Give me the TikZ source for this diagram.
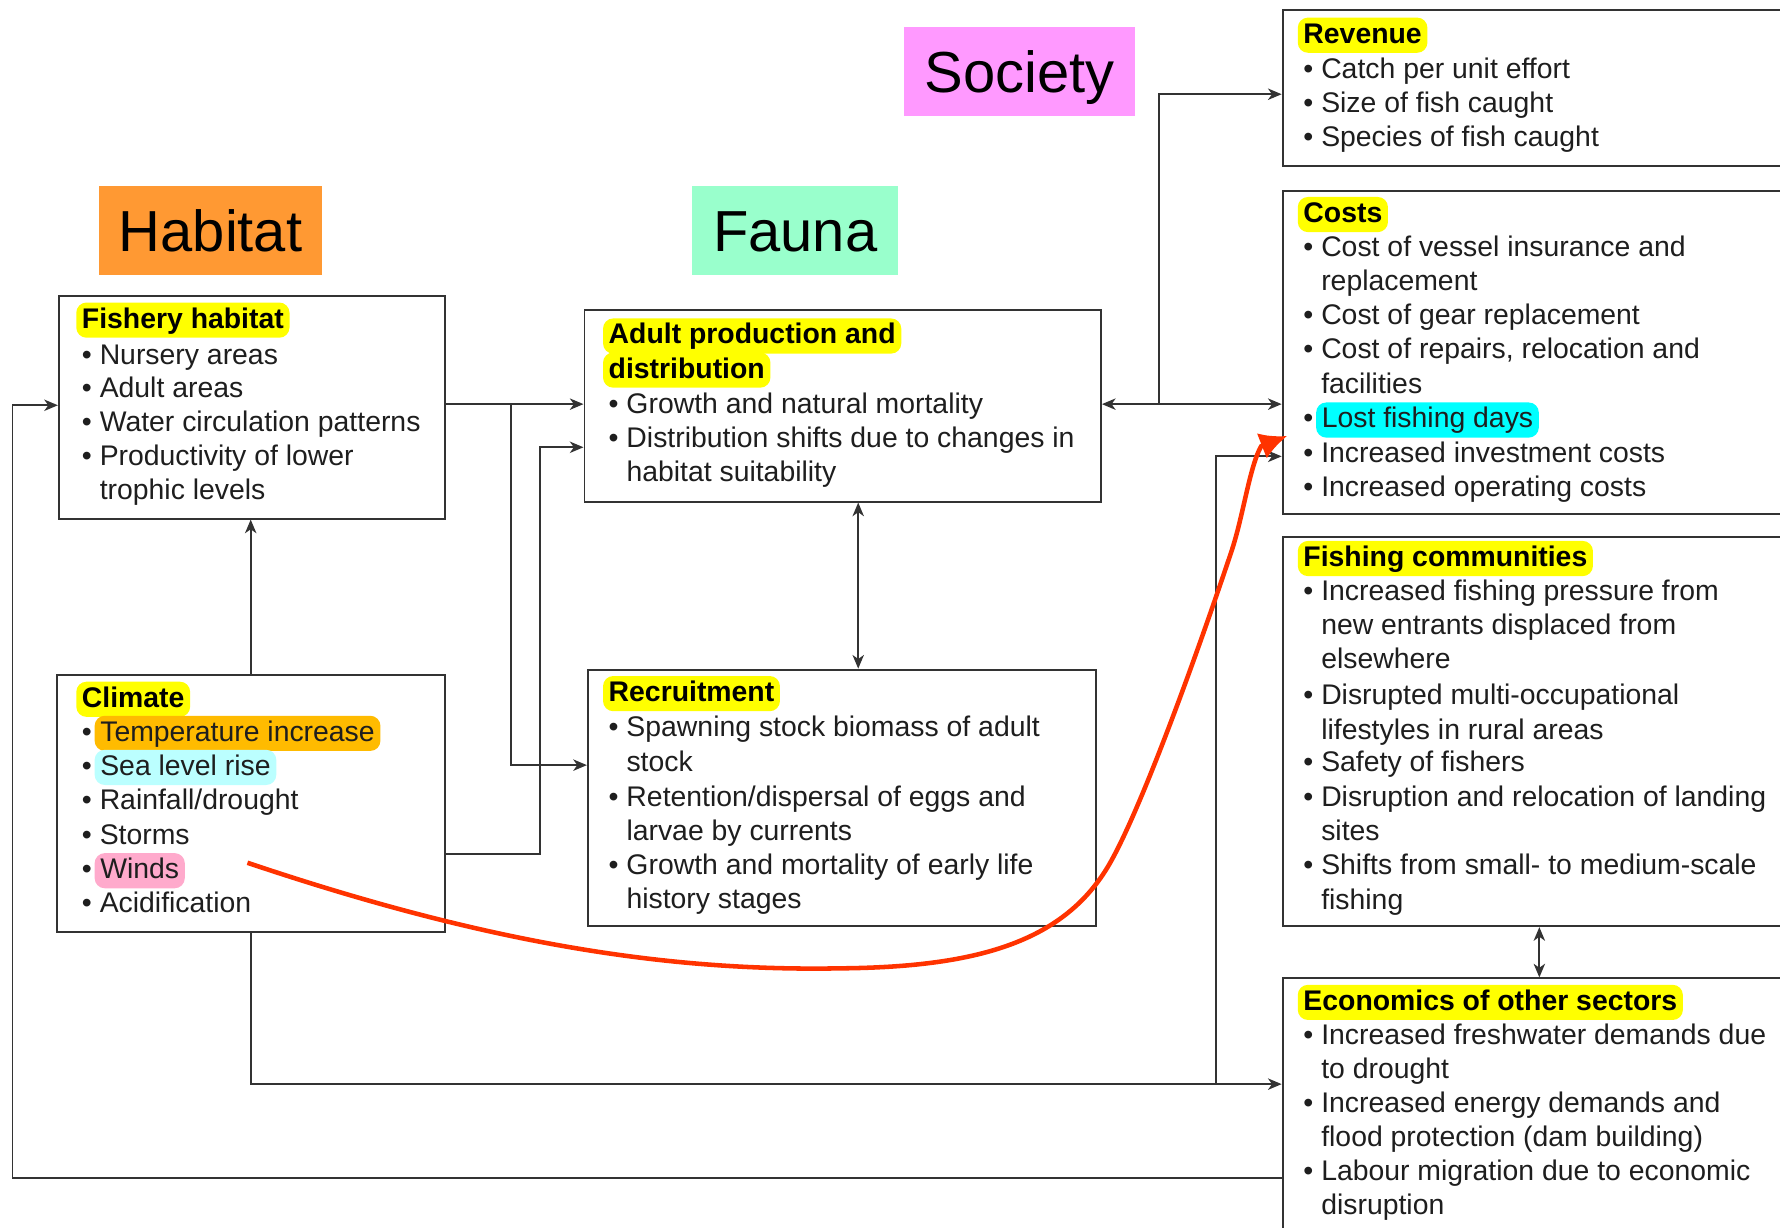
\documentclass[tikz,border=0pt]{standalone}
\usepackage{fontspec}
\setmainfont{Liberation Sans}
\usetikzlibrary{arrows.meta}
\definecolor{habc}{HTML}{FF9933}
\definecolor{fauc}{HTML}{99FFCC}
\definecolor{socc}{HTML}{FF99FF}
\definecolor{hly}{HTML}{FFFF00}
\definecolor{hlo}{HTML}{FFBB00}
\definecolor{hlc}{HTML}{BBFFFF}
\definecolor{hlp}{HTML}{FFAACC}
\definecolor{hlcy}{HTML}{00FFFF}
\definecolor{redc}{HTML}{FF3300}
\definecolor{linec}{HTML}{333333}
\definecolor{txtc}{HTML}{1E1E1E}
\newcommand\Ln[3]{\node[ln] (#1) at (#2) {#3};}
\newcommand\Ct[3]{\node[ln] (#1) at (#2) {\hphantom{•}\ #3};}
\newcommand\Hd[3]{\node[hd] (#1) at (#2) {#3};}
\newcommand\Hb[4]{\node[ln] (#1b) at (#2) {•};
  \node[hl=#3, xshift=2pt] (#1) at (#1b.base east) {#4};}
\tikzset{
  box/.style={draw=linec, line width=1.7pt, anchor=north west, inner sep=0pt},
  ln/.style={anchor=base west, inner sep=0pt, text=txtc, font=\fontsize{25}{30}\selectfont},
  hl/.style={anchor=base west, inner xsep=5pt, inner ysep=3.5pt, text height=19pt,
    text depth=5pt, rounded corners=9pt, text=txtc, font=\fontsize{25}{30}\selectfont, fill=#1},
  hd/.style={hl=hly, xshift=-5pt, text=black, font=\fontsize{25}{30}\selectfont\bfseries},
  ttl/.style={fill=#1, inner sep=0pt, minimum height=78pt, text height=36.5pt, text depth=0pt,
    text=black, font=\fontsize{51}{60}\selectfont},
  conn/.style={draw=linec, line width=1.7pt, -{Stealth[length=12pt,width=10pt,inset=3.5pt]}},
  dconn/.style={draw=linec, line width=1.7pt,
    {Stealth[length=12pt,width=10pt,inset=3.5pt]}-{Stealth[length=12pt,width=10pt,inset=3.5pt]}},
  redarr/.style={draw=redc, line width=4pt, -{Latex[length=24pt,width=24pt]}},
}
\begin{document}
\begin{tikzpicture}[x=1pt,y=-1pt]
\useasboundingbox (0,0) rectangle (1568,1081);
\fill[white] (0,0) rectangle (1568,1081);
\clip (0,0) rectangle (1568,1081);

% titles
\node[ttl=habc, minimum width=197pt] (hab) at (185.5,203) {Habitat};
\node[ttl=fauc, minimum width=181pt] (fau) at (700.5,203) {Fauna};
\node[ttl=socc, minimum width=204pt] (soc) at (898,63) {Society};

% boxes
\node[box, minimum width=340pt, minimum height=196pt] (fh) at (51,260) {};
\node[box, minimum width=342pt, minimum height=226pt] (cl) at (49,594) {};
\node[box, minimum width=455pt, minimum height=169pt] (ap) at (514,272) {};
\node[box, minimum width=448pt, minimum height=226pt] (rc) at (517,589) {};
\node[box, minimum width=470pt, minimum height=137pt] (rv) at (1129,8) {};
\node[box, minimum width=470pt, minimum height=285pt] (co) at (1129,167) {};
\node[box, minimum width=470pt, minimum height=343pt] (fc) at (1129,472) {};
\node[box, minimum width=470pt, minimum height=250pt] (ec) at (1129,861) {};

% Fishery habitat
\Hd{fh0}{72,289}{Fishery habitat}
\Ln{fh1}{72,321}{• Nursery areas}
\Ln{fh2}{72,350}{• Adult areas}
\Ln{fh3}{72,380}{• Water circulation patterns}
\Ln{fh4}{72,410}{• Productivity of lower}
\Ct{fh5}{72,440}{trophic levels}

% Climate
\Hd{cl0}{72,623}{Climate}
\Hb{cl1}{72,653}{hlo}{Temperature increase}
\Hb{cl2}{72,683}{hlc}{Sea level rise}
\Ln{cl3}{72,713}{• Rainfall/drought}
\Ln{cl4}{72,744}{• Storms}
\Hb{cl5}{72,774}{hlp}{Winds}
\Ln{cl6}{72,804}{• Acidification}

% Adult production
\Hd{ap0}{536,303}{Adult production and}
\Hd{ap1}{536,333}{distribution}
\Ln{ap2}{536,364}{• Growth and natural mortality}
\Ln{ap3}{536,394}{• Distribution shifts due to changes in}
\Ct{ap4}{536,424}{habitat suitability}

% Recruitment
\Hd{rc0}{536,618}{Recruitment}
\Ln{rc1}{536,649}{• Spawning stock biomass of adult}
\Ct{rc2}{536,680}{stock}
\Ln{rc3}{536,710}{• Retention/dispersal of eggs and}
\Ct{rc4}{536,740}{larvae by currents}
\Ln{rc5}{536,770}{• Growth and mortality of early life}
\Ct{rc6}{536,800}{history stages}

% Revenue
\Hd{rv0}{1148,38}{Revenue}
\Ln{rv1}{1148,69}{• Catch per unit effort}
\Ln{rv2}{1148,99}{• Size of fish caught}
\Ln{rv3}{1148,129}{• Species of fish caught}

% Costs
\Hd{co0}{1148,196}{Costs}
\Ln{co1}{1148,226}{• Cost of vessel insurance and}
\Ct{co2}{1148,256}{replacement}
\Ln{co3}{1148,286}{• Cost of gear replacement}
\Ln{co4}{1148,316}{• Cost of repairs, relocation and}
\Ct{co5}{1148,347}{facilities}
\Hb{co6}{1148,377}{hlcy}{Lost fishing days}
\Ln{co7}{1148,407}{• Increased investment costs}
\Ln{co8}{1148,437}{• Increased operating costs}

% Fishing communities
\Hd{fc0}{1148,499}{Fishing communities}
\Ln{fc1}{1148,529}{• Increased fishing pressure from}
\Ct{fc2}{1148,559}{new entrants displaced from}
\Ct{fc3}{1148,589}{elsewhere}
\Ln{fc4}{1148,621}{• Disrupted multi-occupational}
\Ct{fc5}{1148,651}{lifestyles in rural areas}
\Ln{fc6}{1148,680}{• Safety of fishers}
\Ln{fc7}{1148,710}{• Disruption and relocation of landing}
\Ct{fc8}{1148,740}{sites}
\Ln{fc9}{1148,770}{• Shifts from small- to medium-scale}
\Ct{fc10}{1148,801}{fishing}

% Economics of other sectors
\Hd{ec0}{1148,890}{Economics of other sectors}
\Ln{ec1}{1148,920}{• Increased freshwater demands due}
\Ct{ec2}{1148,950}{to drought}
\Ln{ec3}{1148,980}{• Increased energy demands and}
\Ct{ec4}{1148,1010}{flood protection (dam building)}
\Ln{ec5}{1148,1040}{• Labour migration due to economic}
\Ct{ec6}{1148,1070}{disruption}

% junction coordinates
\coordinate (j1) at (450,356);
\coordinate (j2) at (476,752);
\coordinate (j3) at (1021,356);
\coordinate (j4) at (1071,955);
\coordinate (j5) at (11,1038);

% connectors
\draw[conn] (fh.east |- j1) -- (ap.west |- j1);
\draw[conn] (j1) -- (j1 |- 0,674) -- (rc.west |- 0,674);
\draw[conn] (cl.east |- j2) -- (j2) -- (j2 |- 0,394) -- (ap.west |- 0,394);
\draw[conn] (cl.north) -- (cl.north |- fh.south);
\draw[dconn] (ap.south -| 756,0) -- (rc.north -| 756,0);
\draw[dconn] (ap.east |- j3) -- (co.west |- j3);
\draw[conn] (j3) -- (j3 |- 0,83) -- (rv.west |- 0,83);
\draw[conn] (cl.south) -- (cl.south |- j4) -- (ec.west |- j4);
\draw[conn] (j4) -- (j4 |- 0,402) -- (co.west |- 0,402);
\draw[conn] (ec.west |- j5) -- (j5) -- (j5 |- 0,357) -- (fh.west |- 0,357);
\draw[dconn] (fc.south -| 1356,0) -- (ec.north -| 1356,0);

% red curve
\coordinate (wstart) at (218,760);
\coordinate (wend) at (1134,384);
\draw[redarr] (wstart) .. controls (420,828) and (580,856) .. (740,853)
  .. controls (860,852) and (935,830) .. (975,765)
  .. controls (1005,716) and (1060,560) .. (1085,485)
  .. controls (1095,455) and (1101,410) .. (1111,393) -- (wend);
\end{tikzpicture}
\end{document}
